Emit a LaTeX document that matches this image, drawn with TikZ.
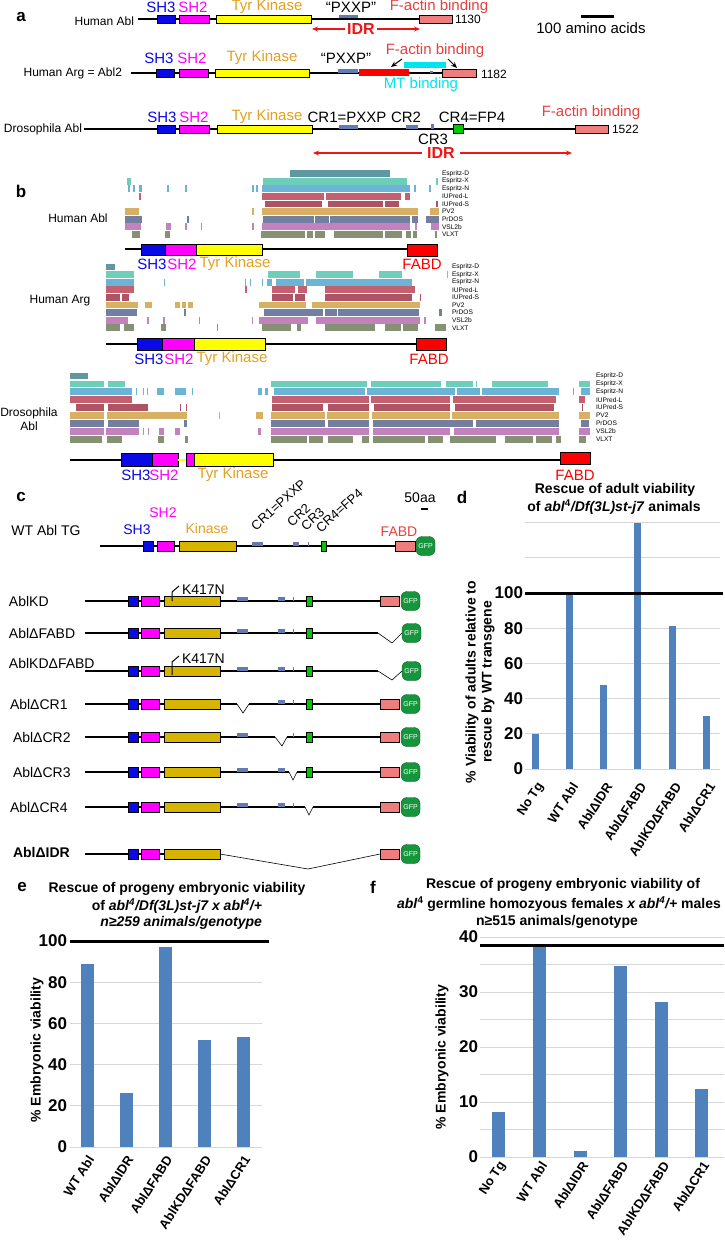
\documentclass[tikz,border=0pt]{standalone}
\usepackage{fontspec}
\setmainfont{Liberation Sans}
\usetikzlibrary{arrows.meta}
\definecolor{cshthree}{RGB}{10,10,230}
\definecolor{cshtwo}{RGB}{255,0,255}
\definecolor{ckin}{RGB}{255,255,0}
\definecolor{ckintwo}{RGB}{214,180,0}
\definecolor{ckinlbl}{RGB}{228,160,30}
\definecolor{cfact}{RGB}{232,64,64}
\definecolor{cfbox}{RGB}{240,125,125}
\definecolor{cpxxp}{RGB}{100,122,178}
\definecolor{cidr}{RGB}{240,20,20}
\definecolor{cred}{RGB}{255,0,0}
\definecolor{ccyan}{RGB}{0,228,240}
\definecolor{cgfp}{RGB}{22,150,60}
\definecolor{ccrfour}{RGB}{0,200,0}
\definecolor{cbar}{RGB}{79,129,189}
\definecolor{cgrid}{RGB}{215,215,215}
\definecolor{rED}{RGB}{95,152,162}
\definecolor{rEX}{RGB}{110,206,186}
\definecolor{rEN}{RGB}{108,180,214}
\definecolor{rIL}{RGB}{196,96,112}
\definecolor{rIS}{RGB}{172,84,100}
\definecolor{rPV}{RGB}{216,176,100}
\definecolor{rPR}{RGB}{116,126,160}
\definecolor{rVS}{RGB}{194,130,190}
\definecolor{rVL}{RGB}{134,144,114}
\newcommand\fsz[1]{\fontsize{#1}{#1}\selectfont}
\newcommand\prow[3]{\foreach \xa/\xb in {#3}{\fill[#1] (\xa,#2-3.4) rectangle (\xb,#2+3.4);}}
\newcommand\rlabels[4]{\foreach \rowtxt [count=\rowidx from 0] in {Espritz-D,Espritz-X,Espritz-N,IUPred-L,IUPred-S,PV2,PrDOS,VSL2b,VLXT}{\node[rowl] (#4\rowidx) at (#1,{#2+\rowidx*#3}) {\rowtxt};}}
\newcommand\cdoms[1]{%
  \draw[dom,fill=cshthree] (128,#1-5) rectangle (138,#1+5);
  \draw[dom,fill=cshtwo] (141,#1-5) rectangle (159,#1+5);
  \draw[dom,fill=ckintwo] (164,#1-5) rectangle (220,#1+5);}
\newcommand\ccra[1]{\fill[cpxxp] (237,#1-4.5) rectangle (248,#1-0.5);}
\newcommand\ccrb[1]{\fill[cpxxp] (278,#1-4.5) rectangle (285,#1-0.5);}
\newcommand\ccrc[1]{\fill[cpxxp] (292.5,#1-4.5) rectangle (294,#1-0.5);}
\newcommand\ccrd[1]{\draw[dom,fill=ccrfour] (306,#1-5) rectangle (312,#1+5);}
\newcommand\cfabd[1]{\draw[dom,fill=cfbox] (380,#1-5) rectangle (399,#1+5);}
\begin{document}
\begin{tikzpicture}[x=1pt,y=-1pt,
  every node/.style={inner sep=0pt,outer sep=0pt},
  dom/.style={draw=black,line width=0.9pt},
  bb/.style={line width=1.2pt},
  thinv/.style={line width=0.6pt},
  lblA/.style={font=\fsz{15}},
  lblC/.style={font=\fsz{14}},
  panel/.style={font=\bfseries\fsz{17}},
  rowl/.style={anchor=west,font=\fsz{6.6}},
  idrar/.style={cidr,line width=1.3pt,-{Stealth[length=6pt,width=5pt]}},
  gfp/.style={fill=cgfp,draw=cgfp!60!black,line width=0.4pt,rounded corners=6pt,minimum width=19pt,minimum height=19pt,text=white,font=\fsz{7}},
  grd/.style={cgrid,line width=0.8pt},
  hund/.style={line width=3pt},
  tick/.style={anchor=east,font=\bfseries\fsz{17}},
  xl/.style={rotate=57,anchor=east,font=\bfseries\fsz{13}},
  ttl/.style={font=\bfseries\fsz{14}},
  ylab/.style={rotate=90,font=\bfseries\fsz{14}},
  crl/.style={rotate=42,anchor=base west,font=\fsz{13}}
]
\useasboundingbox (0,0) rectangle (724,1240);
\fill[white] (0,0) rectangle (724,1240);

%%%%%%%%%%%%%%%% panel a
\node[panel] (pa) at (21,17) {a};
% Human Abl
\node[anchor=east,font=\fsz{12}] (hablA) at (134,21) {Human Abl};
\draw[bb] (138,19) -- (452,19);
\draw[dom,fill=cshthree] (157,15) rectangle (175,23);
\draw[dom,fill=cshtwo] (179,15) rectangle (209,23);
\draw[dom,fill=ckin] (216,15) rectangle (311,23);
\fill[cpxxp] (339,15) rectangle (358,18.4);
\draw[dom,fill=cfbox] (419,15) rectangle (452,23);
\node[anchor=west,font=\fsz{12}] (lenA) at (455,19) {1130};
\node[lblA,text=cshthree] (aash) at (161,7) {SH3};
\node[lblA,text=cshtwo] (aasht) at (193,7) {SH2};
\node[lblA,text=ckinlbl] (aakin) at (267,7) {Tyr Kinase};
\node[lblA] (aapx) at (351,7) {“PXXP”};
\node[lblA,text=cfact] (aafa) at (439,7) {F-actin binding};
\node[font=\bfseries\fsz{16},text=cidr] (idrA) at (361,29) {IDR};
\coordinate (idrAl) at (312,29); \coordinate (idrAr) at (420,29);
\draw[idrar] ([xshift=-2pt]idrA.west) -- (idrAl);
\draw[idrar] ([xshift=2pt]idrA.east) -- (idrAr);
\coordinate (sbl) at (581,16); \coordinate (sbr) at (614,16);
\draw[hund] (sbl) -- (sbr);
\node[lblA] (sbt) at (591,28) {100 amino acids};
% Human Arg
\node[anchor=east,font=\fsz{12}] (hargA) at (122,73) {Human Arg = Abl2};
\draw[bb] (131,73) -- (476,73);
\draw[dom,fill=cshthree] (156,69) rectangle (174,77);
\draw[dom,fill=cshtwo] (179,69) rectangle (208,77);
\draw[dom,fill=ckin] (215,69) rectangle (309,77);
\fill[cpxxp] (338,69) rectangle (358,73);
\fill[cred] (359,68.5) rectangle (409,76);
\fill[ccyan] (404,62) rectangle (446,68);
\fill[cpxxp] (430,71) rectangle (433,73);
\draw[dom,fill=cfbox] (442,69) rectangle (476,77);
\node[anchor=west,font=\fsz{12}] (lenB) at (481,74) {1182};
\node[lblA,text=cshthree] (absh) at (159,58) {SH3};
\node[lblA,text=cshtwo] (absht) at (192,58) {SH2};
\node[lblA,text=ckinlbl] (abkin) at (262,58) {Tyr Kinase};
\node[lblA] (abpx) at (346,58) {“PXXP”};
\node[lblA,text=cfact] (abfa) at (435,51) {F-actin binding};
\node[lblA,text=ccyan] (abmt) at (421,85) {MT binding};
\coordinate (fatipa) at (391,67); \coordinate (fatipb) at (457,68);
\draw[line width=1pt,-{Stealth[length=6pt,width=5pt]}] ([xshift=-33pt,yshift=-1pt]abfa.south) -- (fatipa);
\draw[line width=1pt,-{Stealth[length=6pt,width=5pt]}] ([xshift=13pt,yshift=-1pt]abfa.south) -- (fatipb);
% Drosophila
\node[anchor=east,font=\fsz{12}] (drosA) at (82,129) {Drosophila Abl};
\draw[bb] (84,129) -- (608,129);
\draw[dom,fill=cshthree] (157,125) rectangle (175,133);
\draw[dom,fill=cshtwo] (179,125) rectangle (209,133);
\draw[dom,fill=ckin] (217,125) rectangle (312,133);
\fill[cpxxp] (339,125) rectangle (358,129);
\fill[cpxxp] (406,125) rectangle (418,129);
\fill[cpxxp] (431,124) rectangle (433.5,129);
\draw[dom,fill=ccrfour] (453,124) rectangle (463,133);
\draw[dom,fill=cfbox] (575,125) rectangle (608,133);
\node[anchor=west,font=\fsz{12}] (lenC) at (612,129) {1522};
\node[lblA,text=cshthree] (acsh) at (162,117) {SH3};
\node[lblA,text=cshtwo] (acsht) at (194,117) {SH2};
\node[lblA,text=ckinlbl] (ackin) at (267,117) {Tyr Kinase};
\node[lblA] (accra) at (347,117) {CR1=PXXP};
\node[lblA] (accrb) at (406,117) {CR2};
\node[lblA] (accrd) at (472,117) {CR4=FP4};
\node[lblA] (accrc) at (433,139) {CR3};
\node[lblA,text=cfact] (acfa) at (591,113) {F-actin binding};
\node[font=\bfseries\fsz{16},text=cidr] (idrC) at (441,153) {IDR};
\coordinate (idrCl) at (313,153); \coordinate (idrCr) at (572,153);
\draw[idrar] ([xshift=-5pt]idrC.west) -- (idrCl);
\draw[idrar] ([xshift=5pt]idrC.east) -- (idrCr);

%%%%%%%%%%%%%%%% panel b
\node[panel] (pb) at (21,191) {b};
% Human Abl
\node[font=\fsz{12}] (hablB) at (78,218) {Human Abl};
\prow{rED}{173.5}{290/390}
\prow{rEX}{181.1}{127/131,263/407,436/438}
\prow{rEN}{188.7}{128/129.5,133/134.5,139/142,167/169,185/187,252/254,256/258,262/410,414/416,429/431}
\prow{rIL}{196.3}{139/140.5,262/324,325.5/401,405/410}
\prow{rIS}{203.9}{265/322,328/383,385/399,436/437.5}
\prow{rPV}{211.5}{125/139,252/254,262/418,430/439}
\prow{rPR}{219.1}{125/142,187/189,263/314,315/329,330/410,412/418,426/439}
\prow{rVS}{226.7}{125/141,166/171,185/187,200.5/202,252/254,262/410,415/417,431/439}
\prow{rVL}{234.3}{132/140,165/170,261/305,307/313,315/325,334/383,385/402,406/411,413/417,435/437}
\rlabels{442}{173.5}{7.6}{rla}
\draw[bb] (125,249) -- (407,249);
\draw[dom,fill=cshthree] (141,244) rectangle (165,255);
\draw[dom,fill=cshtwo] (165,244) rectangle (196,255);
\draw[dom,fill=ckin] (196,244) rectangle (262,255);
\draw[dom,fill=cred] (407,244) rectangle (437,256);
\node[lblA,text=cshthree] (basha) at (152,264) {SH3};
\node[lblA,text=cshtwo] (bashb) at (182,264) {SH2};
\node[lblA,text=ckinlbl] (bakin) at (235,264) {Tyr Kinase};
\node[lblA,text=cred] (bafa) at (422,264) {FABD};
% Human Arg
\node[font=\fsz{12}] (hargB) at (60,301) {Human Arg};
\prow{rED}{267}{106/115}
\prow{rEX}{274.6}{106/134,268/300,316/353,379/402,446.5/448}
\prow{rEN}{282.2}{106/134,164/165,245/246,250/251,262/263,267/272,276/304,306/412}
\prow{rIL}{289.8}{106/134,245/247,272/295,298/307,325/415}
\prow{rIS}{297.4}{106/120,122/129,272/293,295/305,325/412,420/421}
\prow{rPV}{305}{106/138,145/152,175/180,182/186,188/193,259/306,312/420}
\prow{rPR}{312.6}{106/137,184/186,264/323,325/337,338/419,439/442}
\prow{rVS}{320.2}{106/128,147/149,163/165,199/200,252/253,259/308,316/420,424/426}
\prow{rVL}{327.8}{106/120,124/134,161/166,217/218,262/291,297/301,325/375,385/401,403/418,435/446}
\rlabels{452}{267}{7.6}{rlb}
\draw[bb] (106,344) -- (416,344);
\draw[dom,fill=cshthree] (137,338) rectangle (162,350);
\draw[dom,fill=cshtwo] (162,338) rectangle (194,350);
\draw[dom,fill=ckin] (194,338) rectangle (265,350);
\draw[dom,fill=cred] (416,338) rectangle (446,350);
\node[lblA,text=cshthree] (bbsha) at (149,359) {SH3};
\node[lblA,text=cshtwo] (bbshb) at (179,359) {SH2};
\node[lblA,text=ckinlbl] (bbkin) at (232,359) {Tyr Kinase};
\node[lblA,text=cred] (bbfa) at (429,359) {FABD};
% Drosophila
\node[font=\fsz{12}] (drosB) at (29,413) {Drosophila};
\node[font=\fsz{12}] (drosBb) at (29,426) {Abl};
\prow{rED}{376}{70/88}
\prow{rEX}{383.9}{70/104,108/125,271/367,371/441,446/473,475.5/477,492/548,579/590}
\prow{rEN}{391.8}{70/132,136/137,143/144,147/148,157/164,175/186,191.5/192.5,257.5/262,264.5/268,274/365,367/455,457/480,482/559,572.5/573.5,581/590}
\prow{rIL}{399.7}{70/132,272/369,371/450,453/556,579/585}
\prow{rIS}{407.6}{76/104,108/148,180/181,186/187,272/323,328/369,374/450,455/554,581.5/582.5}
\prow{rPV}{415.5}{70/104,107/187,219/220,256/263,271/325,327/369,372/450,452/559,579/590}
\prow{rPR}{423.4}{70/104,108/139,184/187,271/325,328/369,373/473,476/559,581/589}
\prow{rVS}{431.3}{70/104,106/139,143/144,147.5/148.5,159/164,175/180,258/261,271/369,373/450,454/559,579/590}
\prow{rVL}{439.2}{70/102,107/122,158/164,185/188,271/307,309/323,328/353,362/369,373/425,428/443,450/496,505/533,536/552,556/561,579/586}
\rlabels{596}{376}{7.9}{rlc}
\draw[bb] (70,460) -- (560,460);
\draw[dom,fill=cshthree] (121,453) rectangle (152,466);
\draw[dom,fill=cshtwo] (152,453) rectangle (178,466);
\draw[ckin,line width=1.2pt] (178,460) -- (186,460);
\draw[dom,fill=cshtwo] (186,453) rectangle (194,466);
\draw[dom,fill=ckin] (194,453) rectangle (273,466);
\draw[dom,fill=cred] (560,452) rectangle (590,464);
\node[lblA,text=cshthree] (bcsha) at (136,475) {SH3};
\node[lblA,text=cshtwo] (bcshb) at (164,475) {SH2};
\node[lblA,text=ckinlbl] (bckin) at (233,475) {Tyr Kinase};
\node[lblA,text=cred] (bcfa) at (575,475) {FABD};

%%%%%%%%%%%%%%%% panel c
\node[panel] (pc) at (21,497) {c};
\node[lblC] (fifty) at (420,498) {50aa};
\coordinate (fbl) at (421,509); \coordinate (fbr) at (428,509);
\draw[line width=2.5pt] (fbl) -- (fbr);
\node[crl] (ccra) at (256,531) {CR1=PXXP};
\node[crl] (ccrb) at (292,527) {CR2};
\node[crl] (ccrc) at (306,531) {CR3};
\node[crl] (ccrd) at (321,533) {CR4=FP4};
\node[lblC] (wtl) at (46,530) {WT Abl TG};
\node[lblC,text=cshthree] (wtsh) at (137,530) {SH3};
\node[lblC,text=cshtwo] (wtsht) at (163,513) {SH2};
\node[lblC,text=ckinlbl] (wtkin) at (207,528) {Kinase};
\node[lblC,text=cfact] (wtfa) at (399,532) {FABD};
\draw[bb] (100,546) -- (395,546);
\draw[dom,fill=cshthree] (143,541) rectangle (153,551);
\draw[dom,fill=cshtwo] (157,541) rectangle (174,551);
\draw[dom,fill=ckintwo] (179,541) rectangle (236,551);
\fill[cpxxp] (252,541.5) rectangle (263,545.5);
\fill[cpxxp] (293,541.5) rectangle (299,545.5);
\fill[cpxxp] (307.5,541.5) rectangle (309,545.5);
\draw[dom,fill=ccrfour] (321,541) rectangle (326,551);
\draw[dom,fill=cfbox] (395,541) rectangle (415,551);
\node[gfp] (gwt) at (425.5,546) {GFP};
% AblKD
\node[anchor=west,lblC] (lkd) at (9,601) {AblKD};
\draw[bb] (85,601) -- (380,601);
\cdoms{601}\ccra{601}\ccrb{601}\ccrc{601}\ccrd{601}\cfabd{601}
\node[gfp] (gkd) at (410.5,601) {GFP};
\draw[line width=1pt] (172,601) -- (172,592) -- (179,586);
\node[anchor=west,lblC] (kkd) at (182,590) {K417N};
% AblDFABD
\node[anchor=west,lblC] (lfd) at (9,633) {AblΔFABD};
\draw[bb] (85,633) -- (378,633);
\cdoms{633}\ccra{633}\ccrb{633}\ccrc{633}\ccrd{633}
\node[gfp] (gfd) at (411.5,633) {GFP};
\draw[thinv] (378,633) -- (392,643) -- (gfd.west);
% AblKDDFABD
\node[anchor=west,lblC] (lkfd) at (9,663) {AblKDΔFABD};
\draw[bb] (85,671) -- (378,671);
\cdoms{671}\ccra{671}\ccrb{671}\ccrc{671}\ccrd{671}
\node[gfp] (gkfd) at (411.5,671) {GFP};
\draw[thinv] (378,671) -- (392,680) -- (gkfd.west);
\draw[line width=1pt] (172,675) -- (172,662) -- (179,656);
\node[anchor=west,lblC] (kkfd) at (182,659) {K417N};
% AblDCR1
\node[anchor=west,lblC] (lcra) at (10,704) {AblΔCR1};
\draw[bb] (85,704) -- (237,704);
\draw[thinv] (237,704) -- (243,713) -- (249,704);
\draw[bb] (249,704) -- (380,704);
\cdoms{704}\ccrb{704}\ccrc{704}\ccrd{704}\cfabd{704}
\node[gfp] (gcra) at (410.5,704) {GFP};
% AblDCR2
\node[anchor=west,lblC] (lcrb) at (13,737) {AblΔCR2};
\draw[bb] (85,737) -- (275,737);
\draw[thinv] (275,737) -- (282,746) -- (287,737);
\draw[bb] (287,737) -- (380,737);
\cdoms{737}\ccra{737}\ccrc{737}\ccrd{737}\cfabd{737}
\node[gfp] (gcrb) at (410.5,737) {GFP};
% AblDCR3
\node[anchor=west,lblC] (lcrc) at (13,772) {AblΔCR3};
\draw[bb] (85,772) -- (289,772);
\draw[thinv] (289,772) -- (293,780) -- (297,772);
\draw[bb] (297,772) -- (380,772);
\cdoms{772}\ccra{772}\ccrb{772}\ccrd{772}\cfabd{772}
\node[gfp] (gcrc) at (410.5,772) {GFP};
% AblDCR4
\node[anchor=west,lblC] (lcrd) at (10,807) {AblΔCR4};
\draw[bb] (85,807) -- (305,807);
\draw[thinv] (305,807) -- (309,815) -- (313,807);
\draw[bb] (313,807) -- (380,807);
\cdoms{807}\ccra{807}\ccrb{807}\ccrc{807}\cfabd{807}
\node[gfp] (gcrd) at (410.5,807) {GFP};
% AblDIDR
\node[anchor=west,font=\bfseries\fsz{14}] (lidr) at (13,852) {AblΔIDR};
\draw[bb] (85,854) -- (220,854);
\draw[thinv] (220,854) -- (308,869) -- (380,854);
\cdoms{854}\cfabd{854}
\node[gfp] (gidr) at (410.5,854) {GFP};

%%%%%%%%%%%%%%%% panel d
\node[panel] (pd) at (462,497) {d};
\node[ttl] (dta) at (615,490) {Rescue of adult viability};
\node[ttl] (dtb) at (614,507) {of \textit{abl}\textsuperscript{4}\textit{/Df(3L)st-j7} animals};
\foreach \v in {0,20,...,140}{\draw[grd] (525,{769-1.76*\v}) -- (720,{769-1.76*\v});}
\foreach \c/\v in {535/20,569/100,603/48,637/140,672/81,706/30}{\fill[cbar] (\c-3.5,769) rectangle (\c+3.5,{769-1.76*\v});}
\draw[hund] (525,593) -- (723,593);
\foreach \v in {0,20,...,100}{\node[tick] (dtk\v) at (523,{769-1.76*\v}) {\v};}
\node[ylab] (dya) at (472,682) {\% Viability of adults relative to};
\node[ylab] (dyb) at (488,682) {rescue by WT transgene};
\foreach \c/\t [count=\i] in {535/No Tg,569/WT Abl,603/AblΔIDR,637/AblΔFABD,672/AblKDΔFABD,706/AblΔCR1}{\node[xl] (dx\i) at (\c+6,784) {\t};}

%%%%%%%%%%%%%%%% panel e
\node[panel] (pe) at (22,887) {e};
\node[ttl] (eta) at (177,889) {Rescue of progeny embryonic viability};
\node[ttl,anchor=east] (etb) at (262,906) {of \textit{abl\textsuperscript{4}/Df(3L)st-j7 x abl\textsuperscript{4}/+}};
\node[ttl,anchor=east] (etc) at (262,923) {\textit{n≥259 animals/genotype}};
\foreach \v in {0,20,...,80}{\draw[grd] (70,{1147-2.06*\v}) -- (262,{1147-2.06*\v});}
\foreach \c/\v in {87/89,126/26,165/97,204/52,243/53.5}{\fill[cbar] (\c-6.5,1147) rectangle (\c+6.5,{1147-2.06*\v});}
\draw[hund] (70,941) -- (269,941);
\foreach \v in {0,20,...,100}{\node[tick] (etk\v) at (67,{1147-2.06*\v}) {\v};}
\node[ylab] (eya) at (37,1050) {\% Embryonic viability};
\foreach \c/\t [count=\i] in {87/WT Abl,126/AblΔIDR,165/AblΔFABD,204/AblKDΔFABD,243/AblΔCR1}{\node[xl] (ex\i) at (\c+4,1157) {\t};}

%%%%%%%%%%%%%%%% panel f
\node[panel] (pf) at (373,887) {f};
\node[ttl] (fta) at (563,885) {Rescue of progeny embryonic viability of};
\node[ttl] (ftb) at (559,904) {\textit{abl}\textsuperscript{4} germline homozyous females \textit{x abl\textsuperscript{4}/+} males};
\node[ttl] (ftc) at (557,922) {n≥515 animals/genotype};
\foreach \v in {0,5,...,40}{\draw[grd] (480,{1157-5.5*\v}) -- (724,{1157-5.5*\v});}
\foreach \c/\v in {498/8.1,539/38.5,580/1.1,620/34.7,661/28.2,701/12.4}{\fill[cbar] (\c-6.5,1157) rectangle (\c+6.5,{1157-5.5*\v});}
\draw[hund] (480,945.25) -- (724,945.25);
\foreach \v in {0,10,...,40}{\node[tick] (ftk\v) at (478,{1157-5.5*\v}) {\v};}
\node[ylab] (fya) at (442,1057) {\% Embryonic viability};
\foreach \c/\t [count=\i] in {498/No Tg,539/WT Abl,580/AblΔIDR,620/AblΔFABD,661/AblKDΔFABD,701/AblΔCR1}{\node[xl] (fx\i) at (\c+5,1163) {\t};}
\end{tikzpicture}
\end{document}
